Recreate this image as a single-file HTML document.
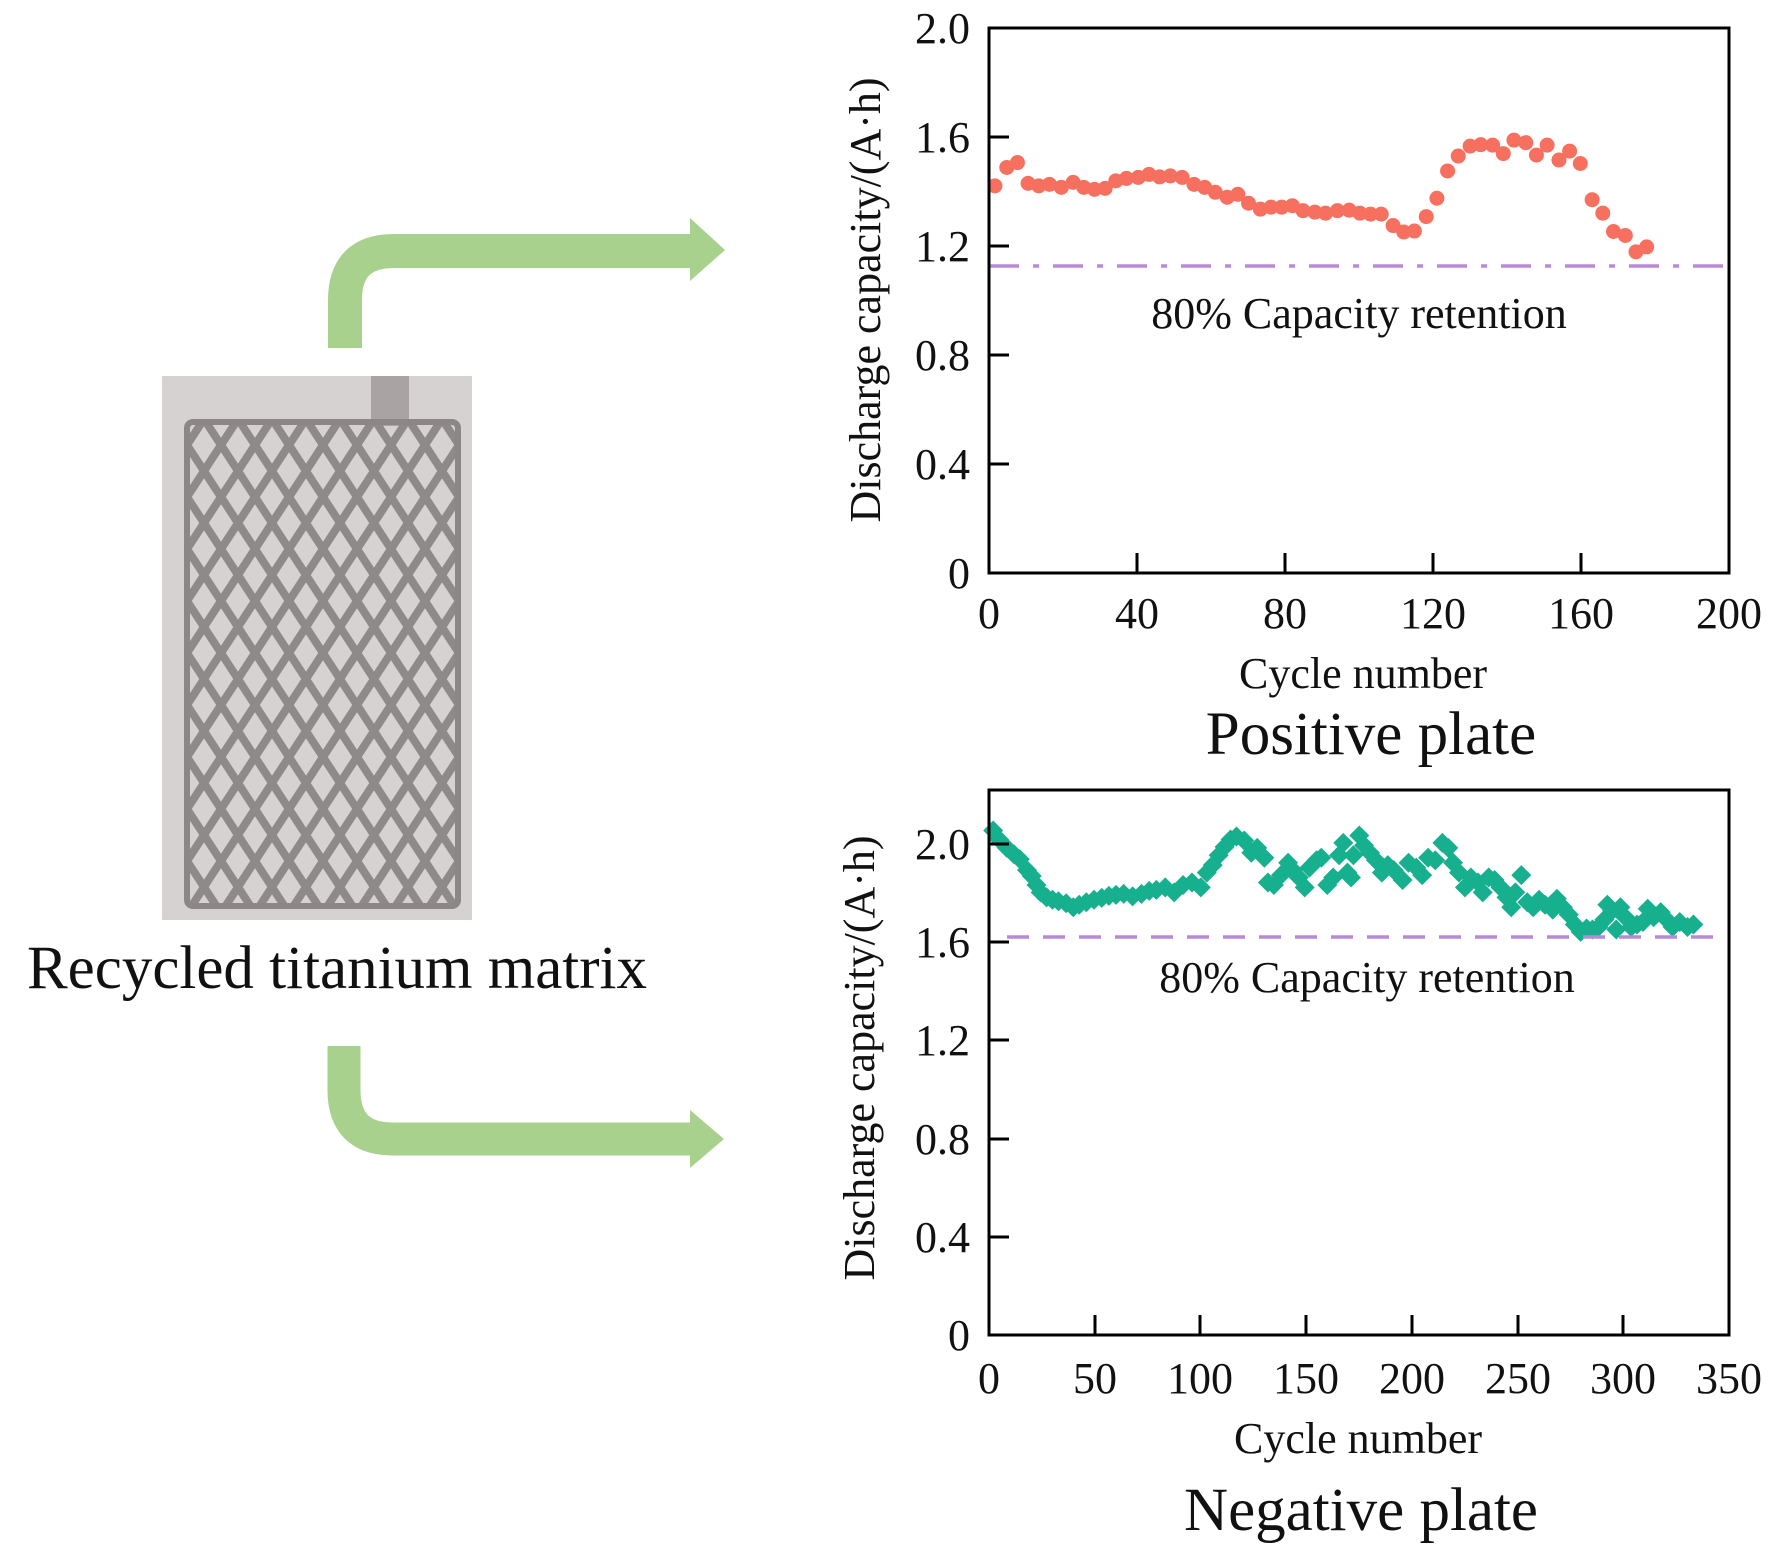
<!DOCTYPE html>
<html><head><meta charset="utf-8"><style>
html,body{margin:0;padding:0;background:#fff;}
svg{display:block;font-family:"Liberation Serif",serif;}
</style></head><body>
<svg id="s" width="1772" height="1556" viewBox="0 0 1772 1556" xmlns="http://www.w3.org/2000/svg">
<defs>
<pattern id="mesh" x="187" y="419" width="34" height="52" patternUnits="userSpaceOnUse">
<path d="M17,0 L34,26 L17,52 L0,26 Z" fill="none" stroke="#8f8a8a" stroke-width="8"/>
</pattern>
</defs>
<!-- photo -->
<rect x="162" y="376" width="310" height="544" fill="#d6d2d1"/>
<rect x="371" y="376" width="38" height="50" fill="#a9a4a3"/>
<rect x="187" y="422" width="271" height="484" fill="url(#mesh)"/>
<rect x="187" y="422" width="271" height="484" rx="6" fill="none" stroke="#8c8786" stroke-width="6"/>
<text x="27" y="988" font-size="61" fill="#111">Recycled titanium matrix</text>
<!-- arrows -->
<path d="M345,348 L345,300 Q345,251 394,251 L692,251" fill="none" stroke="#a8d18e" stroke-width="34"/>
<path d="M690,218 L725,250 L690,281 Z" fill="#a8d18e"/>
<path d="M344,1046 L344,1090 Q344,1139 393,1139 L692,1139" fill="none" stroke="#a8d18e" stroke-width="33"/>
<path d="M690,1110 L724,1139 L690,1168 Z" fill="#a8d18e"/>

<!-- top chart -->
<g id="top"></g>
<line x1="989" y1="266" x2="1729" y2="266" stroke="#b88ad6" stroke-width="3.5" stroke-dasharray="30,14,6,14"/>
<rect x="989" y="28" width="740" height="545" fill="none" stroke="#000" stroke-width="3"/>
<g stroke="#000" stroke-width="3">
<line x1="989" y1="137" x2="1009" y2="137"/><line x1="989" y1="246" x2="1009" y2="246"/><line x1="989" y1="355" x2="1009" y2="355"/><line x1="989" y1="464" x2="1009" y2="464"/>
<line x1="1137" y1="573" x2="1137" y2="553"/><line x1="1285" y1="573" x2="1285" y2="553"/><line x1="1433" y1="573" x2="1433" y2="553"/><line x1="1581" y1="573" x2="1581" y2="553"/>
</g>
<g font-size="44" fill="#111" text-anchor="end">
<text x="970" y="43">2.0</text><text x="970" y="152">1.6</text><text x="970" y="261">1.2</text><text x="970" y="370">0.8</text><text x="970" y="479">0.4</text><text x="970" y="588">0</text>
</g>
<g font-size="44" fill="#111" text-anchor="middle">
<text x="989" y="628">0</text><text x="1137" y="628">40</text><text x="1285" y="628">80</text><text x="1433" y="628">120</text><text x="1581" y="628">160</text><text x="1729" y="628">200</text>
</g>
<text x="1359" y="328" font-size="44" text-anchor="middle" fill="#111">80% Capacity retention</text>
<text x="1363" y="688" font-size="44" text-anchor="middle" fill="#111">Cycle number</text>
<text x="1371" y="754" font-size="61" text-anchor="middle" fill="#111">Positive plate</text>
<text transform="translate(880,300) rotate(-90)" font-size="44" text-anchor="middle" fill="#111">Discharge capacity/(A·h)</text>

<!-- bottom chart -->
<g id="bot"></g>
<line x1="1007" y1="937" x2="1726" y2="937" stroke="#b88ad6" stroke-width="3.5" stroke-dasharray="22,14"/>
<rect x="989" y="790" width="740" height="545" fill="none" stroke="#000" stroke-width="3"/>
<g stroke="#000" stroke-width="3">
<line x1="989" y1="1237" x2="1009" y2="1237"/><line x1="989" y1="1139" x2="1009" y2="1139"/><line x1="989" y1="1040" x2="1009" y2="1040"/><line x1="989" y1="942" x2="1009" y2="942"/><line x1="989" y1="844" x2="1009" y2="844"/>
<line x1="1095" y1="1335" x2="1095" y2="1315"/><line x1="1200" y1="1335" x2="1200" y2="1315"/><line x1="1306" y1="1335" x2="1306" y2="1315"/><line x1="1412" y1="1335" x2="1412" y2="1315"/><line x1="1518" y1="1335" x2="1518" y2="1315"/><line x1="1623" y1="1335" x2="1623" y2="1315"/>
</g>
<g font-size="44" fill="#111" text-anchor="end">
<text x="970" y="859">2.0</text><text x="970" y="957">1.6</text><text x="970" y="1055">1.2</text><text x="970" y="1154">0.8</text><text x="970" y="1252">0.4</text><text x="970" y="1350">0</text>
</g>
<g font-size="44" fill="#111" text-anchor="middle">
<text x="989" y="1393">0</text><text x="1095" y="1393">50</text><text x="1200" y="1393">100</text><text x="1306" y="1393">150</text><text x="1412" y="1393">200</text><text x="1518" y="1393">250</text><text x="1623" y="1393">300</text><text x="1729" y="1393">350</text>
</g>
<text x="1367" y="992" font-size="44" text-anchor="middle" fill="#111">80% Capacity retention</text>
<text x="1358" y="1453" font-size="44" text-anchor="middle" fill="#111">Cycle number</text>
<text x="1361" y="1530" font-size="61" text-anchor="middle" fill="#111">Negative plate</text>
<text transform="translate(874,1058) rotate(-90)" font-size="44" text-anchor="middle" fill="#111">Discharge capacity/(A·h)</text>
</svg>
<script>
var NS="http://www.w3.org/2000/svg";
var tp=[[258,375],[278,338],[296,328],[314,370],[332,375],[350,372],[370,378],[390,368],[408,378],[426,382],[444,380],[462,365],[480,360],[500,358],[518,352],[536,357],[554,355],[574,358],[594,372],[612,378],[630,388],[650,398],[668,392],[686,410],[706,422],[724,418],[742,418],[760,415],[778,425],[798,428],[816,430],[836,425],[856,424],[874,430],[892,432],[910,432],[930,455],[948,468],[966,466],[986,437],[1004,400],[1022,345],[1040,315],[1060,295],[1078,292],[1098,293],[1116,310],[1134,283],[1154,288],[1172,313],[1190,293],[1210,323],[1228,305],[1246,330],[1266,403],[1284,430],[1302,467],[1322,475],[1340,508],[1358,498]];
var g=document.getElementById("top");
tp.forEach(function(p){var c=document.createElementNS(NS,"circle");
c.setAttribute("cx",989+(p[0]-248)*740/1249);c.setAttribute("cy",28+(p[1]-57)*545/1098);c.setAttribute("r",7.5);c.setAttribute("fill","#f7705f");g.appendChild(c);});
var bp=[[255,100],[265,118],[278,135],[290,148],[300,158],[312,180],[320,192],[328,210],[335,225],[345,235],[355,240],[365,243],[378,247],[390,255],[400,250],[412,245],[425,240],[438,236],[450,232],[462,230],[475,228],[490,233],[505,228],[518,222],[530,220],[545,215],[560,225],[575,210],[590,205],[605,215],[615,185],[625,170],[635,150],[645,133],[655,118],[665,112],[678,120],[690,145],[700,135],[712,155],[718,205],[728,210],[740,190],[752,165],[760,180],[770,195],[780,215],[788,175],[800,160],[808,155],[818,210],[828,195],[838,150],[845,125],[852,185],[858,195],[862,150],[872,110],[880,130],[890,145],[900,160],[910,185],[920,170],[930,180],[945,200],[955,165],[968,175],[978,190],[988,155],[1000,160],[1012,125],[1022,135],[1030,165],[1040,185],[1050,215],[1060,195],[1072,205],[1080,225],[1090,195],[1100,200],[1110,215],[1120,235],[1128,255],[1135,225],[1145,190],[1155,245],[1165,255],[1175,240],[1185,250],[1198,260],[1205,238],[1215,255],[1225,270],[1235,290],[1245,305],[1255,298],[1265,300],[1275,295],[1285,280],[1290,250],[1298,262],[1305,300],[1312,255],[1320,275],[1330,295],[1340,290],[1350,285],[1358,258],[1368,275],[1380,265],[1390,280],[1400,295],[1412,285],[1425,295],[1435,290]];
var h=document.getElementById("bot");
bp.forEach(function(p){var x=989+(p[0]-248)*740/1247,y=790+(p[1]-18)*545/1102,d=10;
var q=document.createElementNS(NS,"path");q.setAttribute("d","M"+x+","+(y-d)+"L"+(x+d)+","+y+"L"+x+","+(y+d)+"L"+(x-d)+","+y+"Z");q.setAttribute("fill","#17b08f");h.appendChild(q);});
</script>
</body></html>
